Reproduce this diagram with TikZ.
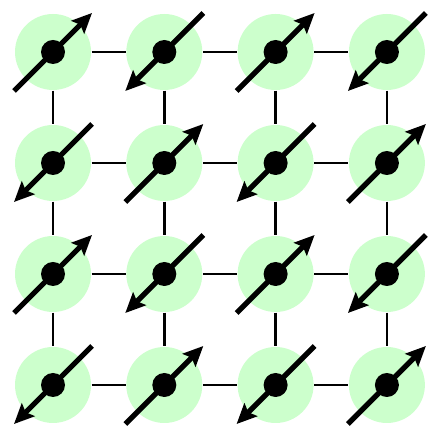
\documentclass[tikz,border=0pt]{standalone}
\usetikzlibrary{arrows.meta,calc}
\definecolor{SiteGreen}{RGB}{204,255,204}
\tikzset{
  site/.style={circle,fill=SiteGreen,minimum size=0.76cm,inner sep=0pt},
  dot/.style={circle,fill=black,minimum size=0.24cm,inner sep=0pt},
  bond/.style={draw=black,line width=0.7pt},
  spin/.style={-{Stealth[length=2mm,width=1.8mm,inset=0.35mm]},line width=1.5pt}
}

\begin{document}
\begin{tikzpicture}
  \useasboundingbox (0,0) rectangle (4.36,-4.28);
  % lattice sites
  \foreach \i in {0,...,3}{
    \foreach \j in {0,...,3}{
      \node[site] (s\i\j) at (0.53+1.113*\j,-0.52-1.11*\i) {};
    }
  }
  % bonds
  \foreach \i in {0,...,3}{
    \foreach \j/\k in {0/1,1/2,2/3}{
      \draw[bond] (s\i\j) -- (s\i\k);
      \draw[bond] (s\j\i) -- (s\k\i);
    }
  }
  % spins, alternating up/down
  \foreach \i in {0,...,3}{
    \foreach \j in {0,...,3}{
      \pgfmathsetmacro\dir{0.39*(1-2*mod(\i+\j,2))}
      \draw[spin] ($(s\i\j)+(-\dir,-\dir)$) -- ($(s\i\j)+(\dir,\dir)$);
      \node[dot] (d\i\j) at (s\i\j) {};
    }
  }
\end{tikzpicture}
\end{document}
